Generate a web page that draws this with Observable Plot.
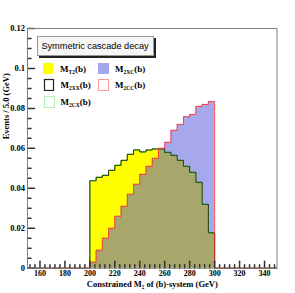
<!DOCTYPE html>
<html><head><meta charset="utf-8">
<script src="https://cdn.jsdelivr.net/npm/d3@7"></script>
<script src="https://cdn.jsdelivr.net/npm/@observablehq/plot@0.6"></script>
<style>
body{margin:0;background:#fff}
#wrap{position:relative;width:295px;height:293px;overflow:hidden}
#wrap svg.plot{position:absolute;left:0;top:0}
.tbox{position:absolute;left:36.5px;top:35.5px;width:115px;height:18px;border:1px solid #999;background:#f6f6f6;box-shadow:2px 2px 0 #222;font:9.2px "Liberation Sans",Arial,sans-serif;color:#000;text-align:center;line-height:18px}
.leg{position:absolute;font:bold 9px "Liberation Serif","Times New Roman",serif;color:#000;white-space:nowrap;line-height:10px}
.leg sub{font-size:5.5px;vertical-align:-2px;line-height:0}
.sw{position:absolute}
</style></head><body>
<div id="wrap"></div>
<script>
// bin lower edges (GeV), bin width 5 GeV
const binLows = [200,205,210,215,220,225,230,235,240,245,250,255,260,265,270,275,280,285,290,295];
const binWidth = 5;
const xDomain = [150, 350];
const yDomain = [0, 0.12];
const mT2  = [0.0438,0.0455,0.0465,0.049,0.0515,0.054,0.057,0.0592,0.0582,0.0592,0.0597,0.0597,0.058,0.0565,0.054,0.051,0.048,0.043,0.032,0.0177];
const m2XX = [0.0438,0.0455,0.0465,0.049,0.0515,0.054,0.057,0.0592,0.0582,0.0592,0.0597,0.0597,0.058,0.0565,0.054,0.051,0.048,0.043,0.032,0.0177];
const m2CX = [0.0438,0.0455,0.0465,0.049,0.0515,0.054,0.057,0.0592,0.0582,0.0592,0.0597,0.0597,0.058,0.0565,0.054,0.051,0.048,0.043,0.032,0.0177];
const m2XC = [0.003,0.009,0.015,0.020,0.026,0.031,0.037,0.042,0.047,0.051,0.055,0.060,0.063,0.069,0.072,0.0758,0.077,0.081,0.082,0.0834];
const m2CC = [0.003,0.009,0.015,0.020,0.026,0.031,0.037,0.042,0.047,0.051,0.055,0.060,0.063,0.069,0.072,0.0758,0.077,0.081,0.082,0.0834];
const xTickLabels = [160,180,200,220,240,260,280,300,320,340];
const yTickLabels = [0,0.02,0.04,0.06,0.08,0.1,0.12];
const title = "Symmetric cascade decay";
const xTitle = "Constrained M\u2082 of (b)-system (GeV)";
const yTitle = "Events / 5.0 (GeV)";

const hatchColor = "#5050d8";

function steps(vals){
  const pts=[{x:xDomain[0],y:0}];
  binLows.forEach((b,i)=>pts.push({x:b,y:vals[i]}));
  pts.push({x:binLows[binLows.length-1]+binWidth,y:0});
  pts.push({x:xDomain[1],y:0});
  return pts;
}
const tickShape={draw(ctx,l){ctx.moveTo(0,0);ctx.lineTo(0,-l);}};
const xMinor=d3.range(152,350,4).filter(v=>v%20!==0);
const yMinor=d3.range(1,24).map(k=>k*0.005).filter((v,k)=>(k+1)%4!==0);
const yMajor=yTickLabels;

const plot=Plot.plot({
  width:295,height:293,
  marginLeft:27,marginRight:18.5,marginTop:28,marginBottom:25.3,
  x:{domain:xDomain},
  y:{domain:yDomain},
  style:{fontFamily:"'Liberation Serif','Times New Roman',serif",fontWeight:"bold",fontSize:"8px",background:"transparent"},
  marks:[
    Plot.areaY(steps(mT2),{x:"x",y:"y",curve:"step-after",fill:"#ffff00"}),
    Plot.areaY(steps(m2XC),{x:"x",y:"y",curve:"step-after",fill:hatchColor,fillOpacity:0.5}),
    Plot.line(steps(m2CX),{x:"x",y:"y",curve:"step-after",stroke:"#44cc44",strokeWidth:1}),
    Plot.line(steps(m2XX),{x:"x",y:"y",curve:"step-after",stroke:"#1a2a1a",strokeWidth:1,strokeDasharray:"1,1"}),
    Plot.line(steps(m2CC),{x:"x",y:"y",curve:"step-after",stroke:"#ff3333",strokeWidth:1,strokeDasharray:"1,1"}),
    Plot.vector(yMajor,{y:d=>d,frameAnchor:"left",length:7,rotate:90,anchor:"start",shape:tickShape,stroke:"#333"}),
    Plot.vector(yMinor,{y:d=>d,frameAnchor:"left",length:3.5,rotate:90,anchor:"start",shape:tickShape,stroke:"#333"}),
    Plot.vector(xTickLabels,{x:d=>d,frameAnchor:"bottom",length:7,rotate:0,anchor:"start",shape:tickShape,stroke:"#333"}),
    Plot.vector(xMinor,{x:d=>d,frameAnchor:"bottom",length:3.5,rotate:0,anchor:"start",shape:tickShape,stroke:"#333"}),
    Plot.axisY({ticks:yTickLabels,tickSize:0,tickPadding:2.5,label:null,fontSize:8.5,tickFormat:d=>String(+d.toFixed(2))}),
    Plot.axisX({ticks:xTickLabels,tickSize:0,tickPadding:2.5,label:null,fontSize:8,tickFormat:d=>String(d)}),
    Plot.frame({stroke:"#808080"}),
    Plot.text([xTitle],{text:d=>d,frameAnchor:"bottom",dy:18.5,fontSize:8.5,fontWeight:"bold"}),
    Plot.text([yTitle],{text:d=>d,frameAnchor:"left",rotate:-90,dx:-21,dy:-9,fontSize:8.5,fontWeight:"bold"})
  ]
});
plot.classList.add("plot");
const wrap=document.getElementById("wrap");
wrap.appendChild(plot);

// title box
const tb=document.createElement("div");tb.className="tbox";tb.textContent=title;wrap.appendChild(tb);

// legend
const legend=[
  {sub:"T2",x:43,y:63,kind:"yellow"},
  {sub:"2XC",x:98,y:63,kind:"hatch"},
  {sub:"2XX",x:43.5,y:79,kind:"black"},
  {sub:"2CC",x:98,y:79,kind:"red"},
  {sub:"2CX",x:43.5,y:96,kind:"green"}
];
legend.forEach(e=>{
  const s=document.createElementNS("http://www.w3.org/2000/svg","svg");
  s.setAttribute("width",13);s.setAttribute("height",13);s.setAttribute("class","sw");
  s.style.left=(e.x-1)+"px";s.style.top=(e.y-1)+"px";
  let r;
  if(e.kind==="yellow") r=`<rect x="1" y="1" width="10" height="11" fill="#ffff00"/>`;
  else if(e.kind==="hatch") r=`<rect x="1" y="1" width="11" height="11" fill="${hatchColor}" fill-opacity="0.5"/>`;
  else if(e.kind==="black") r=`<rect x="1.5" y="1.5" width="9" height="11" fill="none" stroke="#222" stroke-width="1.2"/>`;
  else if(e.kind==="red") r=`<rect x="1.5" y="1.5" width="10" height="11" fill="none" stroke="#ff3333" stroke-dasharray="1,1"/>`;
  else r=`<rect x="1.5" y="1.5" width="10" height="11" fill="none" stroke="#66dd66" stroke-dasharray="1,1"/>`;
  s.innerHTML=r;wrap.appendChild(s);
  const t=document.createElement("div");t.className="leg";
  t.style.left=(e.x+17)+"px";t.style.top=(e.y+1)+"px";
  t.innerHTML=`M<sub>${e.sub}</sub>(b)`;wrap.appendChild(t);
});
</script>
</body></html>
